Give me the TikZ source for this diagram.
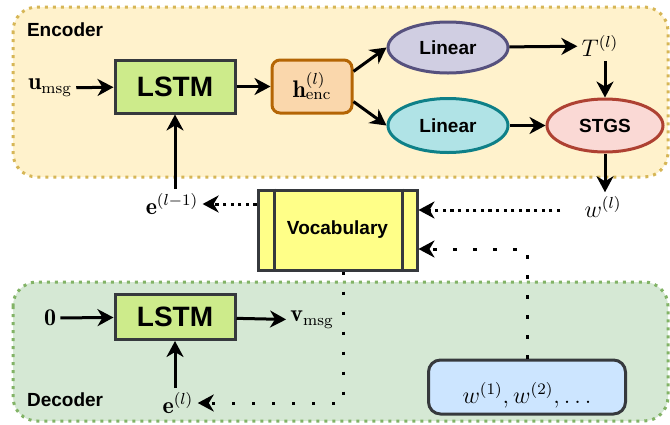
\documentclass[tikz,border=0pt]{standalone}
\usepackage{fontspec}
\setsansfont{Liberation Sans}
\usepackage{amsmath,amssymb}
\usetikzlibrary{shapes.geometric, arrows.meta, positioning, calc}
\definecolor{encfill}{HTML}{FFF2CC}
\definecolor{encline}{HTML}{D6B656}
\definecolor{decfill}{HTML}{D5E8D4}
\definecolor{decline}{HTML}{82B366}
\definecolor{lstmfill}{HTML}{CDEB8B}
\definecolor{darkline}{HTML}{36393D}
\definecolor{hfill}{HTML}{FAD7AC}
\definecolor{hline}{HTML}{B46504}
\definecolor{linAfill}{HTML}{D0CEE2}
\definecolor{linAline}{HTML}{56517E}
\definecolor{linBfill}{HTML}{B0E3E6}
\definecolor{linBline}{HTML}{0E8088}
\definecolor{stgsfill}{HTML}{FAD9D5}
\definecolor{stgsline}{HTML}{AE4132}
\definecolor{vocabfill}{HTML}{FFFF88}
\definecolor{wfill}{HTML}{CCE5FF}

\begin{document}
\begin{tikzpicture}[x=0.5pt, y=-0.5pt,
  arr/.style={line width=1.5pt, -{Stealth[length=8pt, width=8.5pt, inset=2.5pt]}},
  densedot/.style={arr, dash pattern=on 1.6pt off 2.2pt},
  sparsedot/.style={arr, dash pattern=on 1.6pt off 8.4pt},
  frame/.style={line width=1.5pt, rounded corners=12pt, dash pattern=on 1.5pt off 2.5pt},
  lstmbox/.style={draw=darkline, fill=lstmfill, line width=1.5pt, minimum width=60pt,
    font=\sffamily\bfseries\fontsize{14}{16}\selectfont},
  oval/.style={ellipse, line width=1.5pt, inner sep=0pt, minimum width=60pt, minimum height=26pt,
    font=\sffamily\bfseries\fontsize{9.5}{11}\selectfont},
  mlabel/.style={font=\fontsize{12}{14}\selectfont, inner sep=2pt},
  title/.style={font=\sffamily\bfseries\fontsize{9.5}{11}\selectfont, anchor=west}
  ]
  \useasboundingbox (0,0) rectangle (670,424);

  % Containers
  \filldraw[frame, fill=encfill, draw=encline] (13,7) rectangle (668,177);
  \filldraw[frame, fill=decfill, draw=decline] (13,282) rectangle (668,421);
  \node[title] (enctitle) at (20,30) {Encoder};
  \node[title] (dectitle) at (20,400) {Decoder};

  % Encoder
  \node[lstmbox, minimum height=26.5pt] (lstmE) at (175,86.5) {LSTM};
  \node[mlabel] (umsg) at (50,88) {$\mathbf{u}_{\text{msg}}$};
  \node[draw=hline, fill=hfill, line width=1.5pt, rounded corners=4pt, minimum width=40pt,
    minimum height=26.5pt, inner sep=1pt, font=\fontsize{12}{14}\selectfont] (henc) at (312,86.5)
    {$\mathbf{h}_{\text{enc}}^{(l)}$};
  \node[oval, draw=linAline, fill=linAfill, minimum height=25.5pt] (linA) at (448,47.5) {Linear};
  \node[oval, draw=linBline, fill=linBfill, minimum height=27pt] (linB) at (448,125.5) {Linear};
  \node[mlabel] (T) at (600,46) {$T^{(l)}$};
  \node[oval, draw=stgsline, fill=stgsfill, minimum width=58pt, minimum height=26.5pt] (stgs) at (605,125.5) {STGS};
  \node[mlabel] (wl) at (603,207) {$w^{(l)}$};

  \draw[arr] (umsg) -- (lstmE);
  \draw[arr] (lstmE) -- (henc);
  \draw[arr] (henc.20) -- (linA.west);
  \draw[arr] (henc.-20) -- (linB.west);
  \draw[arr] (linA) -- (T);
  \draw[arr] (stgs.north |- T.south) -- (stgs.north);
  \draw[arr] (linB) -- (stgs);
  \draw[arr] (stgs.south) -- (stgs.south |- wl.north);

  % Vocabulary
  \node[draw=darkline, fill=vocabfill, line width=1.5pt, minimum width=79.5pt, minimum height=40pt,
    font=\sffamily\bfseries\fontsize{9.5}{11}\selectfont] (vocab) at (337.5,230) {Vocabulary};
  \draw[darkline, line width=1.5pt] ([xshift=9pt]vocab.north west) -- ([xshift=9pt]vocab.south west);
  \draw[darkline, line width=1.5pt] ([xshift=-8pt]vocab.north east) -- ([xshift=-8pt]vocab.south east);
  \node[mlabel] (em1) at (172,204) {$\mathbf{e}^{(l-1)}$};
  \coordinate (wfrom) at (560,210);

  \draw[densedot] (wfrom) -- ([yshift=10pt]vocab.east);
  \draw[densedot] (vocab.west |- em1.east) -- (em1.east);
  \draw[arr] (em1.north -| lstmE.south) -- (lstmE.south);

  % Decoder
  \node[lstmbox, minimum height=22.5pt] (lstmD) at (175,317) {LSTM};
  \node[mlabel] (zero) at (50,318) {$\mathbf{0}$};
  \node[mlabel] (vmsg) at (312,320) {$\mathbf{v}_{\text{msg}}$};
  \node[mlabel] (el) at (178,403) {$\mathbf{e}^{(l)}$};
  \node[draw=darkline, fill=wfill, line width=1.5pt, rounded corners=6pt, minimum width=98.5pt,
    minimum height=27pt, inner sep=2pt, text height=18pt, text depth=2pt,
    font=\fontsize{12}{14}\selectfont] (wlist) at (527,387) {$w^{(1)}, w^{(2)}, \ldots$};

  \draw[arr] (zero) -- (lstmD);
  \draw[arr] (lstmD) -- (vmsg);
  \draw[arr] (el.north -| lstmD.south) -- (lstmD.south);
  \draw[sparsedot] (wlist.north) |- ([yshift=-9.5pt]vocab.east);
  \draw[sparsedot] ([xshift=3pt]vocab.south) |- (el.east);
\end{tikzpicture}
\end{document}
